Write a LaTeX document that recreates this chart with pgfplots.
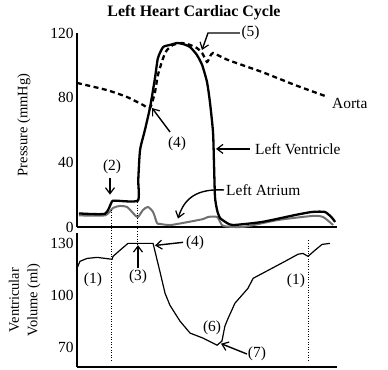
\documentclass[border=0pt]{standalone}
\usepackage{fontspec}
\setmainfont{Liberation Serif}
\usepackage{pgfplots}
\pgfplotsset{compat=1.18}
\usetikzlibrary{arrows.meta}
\newcommand\lbl{\fontsize{15.5}{16}\selectfont}
\definecolor{atrium}{RGB}{112,112,112}
\tikzset{annarrow/.style={line width=1.4bp,-{Straight Barb[length=6bp,width=9bp,line width=1.2bp]}}}
\begin{document}
\begin{tikzpicture}[x=1bp,y=1bp]
\path[use as bounding box] (0,0) rectangle (388,370);
% ---------------- top: pressure ----------------
\begin{axis}[name=top, at={(77bp,143bp)}, anchor=south west, scale only axis,
  width=260bp, height=194bp, xmin=0, xmax=0.8, ymin=0, ymax=120,
  axis x line=bottom, axis y line=left, axis line style={-,line width=1.6bp},
  xtick=\empty, ytick={0,40,80,120}, major tick length=0pt,
  tick label style={font=\lbl}, /pgf/number format/assume math mode=true,
  clip=false]
% Left atrium
\addplot[atrium, line width=2bp, smooth, tension=0.4] coordinates {
(0.006,7.2) (0.086,7.2) (0.111,11.8) (0.132,13.0) (0.154,12.4) (0.178,7.4)
(0.188,6.2) (0.203,10.5) (0.218,12.4) (0.234,9.3) (0.246,2.5) (0.255,1.9)
(0.286,1.2) (0.326,2.5) (0.388,4.9) (0.403,6.2) (0.431,6.2) (0.446,1.2)
(0.465,0.2) (0.517,0.2) (0.618,4.3) (0.723,6.8) (0.757,6.2) (0.788,1.2)};
% Left ventricle
\addplot[black, line width=2.3bp, smooth, tension=0.35] coordinates {
(0.006,8.4) (0.086,8.2) (0.107,15.6) (0.117,16.3) (0.187,16.3) (0.1885,29.1)
(0.194,47.6) (0.209,60.0) (0.225,74.2) (0.240,92.2) (0.249,104.5) (0.265,111.3)
(0.286,112.6) (0.308,113.8) (0.326,113.2) (0.348,111.3) (0.369,106.4)
(0.385,100.2) (0.400,89.7) (0.409,77.3) (0.4185,58.8) (0.4215,39.6)
(0.4246,18.6) (0.431,10.5) (0.440,5.6) (0.4615,2.5) (0.480,1.2) (0.569,3.1)
(0.671,7.4) (0.723,9.3) (0.763,9.3) (0.785,5.6) (0.794,3.1)};
% Aorta
\addplot[black, line width=2.3bp, dash pattern=on 5bp off 3.5bp, smooth, tension=0.35] coordinates {
(0,89.1) (0.092,84.7) (0.154,80.4) (0.203,75.5) (0.2246,73.6) (0.240,83.5)
(0.249,94.0) (0.265,104.5) (0.277,109.5) (0.295,112.6) (0.323,113.8)
(0.348,112.6) (0.369,110.7) (0.385,107.6) (0.400,102.1) (0.409,105.2)
(0.4185,107.6) (0.4646,103.3) (0.569,95.9) (0.671,87.8) (0.772,80.4)};
% annotations
\node[font=\lbl] at (axis cs:0.1077,37.1) {(2)};
\draw[annarrow] (axis cs:0.1015,30.3) -- (axis cs:0.1015,20.0);
\node[font=\lbl] at (axis cs:0.3077,51.5) {(4)};
\draw[annarrow] (axis cs:0.2862,58.8) -- (axis cs:0.2308,73.6);
\node[font=\lbl] at (axis cs:0.534,120.0) {(5)};
\draw[annarrow] (axis cs:0.5015,120) -- (axis cs:0.4031,120) -- (axis cs:0.3846,109.5);
\node[font=\lbl, anchor=west, inner sep=0pt] at (axis cs:0.7846,76.7) {Aorta};
\node[font=\lbl, anchor=west, inner sep=0pt] at (axis cs:0.5477,48.3) {Left Ventricle};
\draw[annarrow] (axis cs:0.5323,48.3) -- (axis cs:0.4277,48.3);
\node[font=\lbl, anchor=west, inner sep=0pt] at (axis cs:0.4585,22.9) {Left Atrium};
\draw[annarrow] (axis cs:0.4523,22.9) .. controls (axis cs:0.37,23.8) and (axis cs:0.33,18) .. (axis cs:0.3108,5.2);
\end{axis}
% ---------------- bottom: volume ----------------
\begin{axis}[name=bot, at={(77bp,3bp)}, anchor=south west, scale only axis,
  width=260bp, height=134bp, xmin=0, xmax=0.8, ymin=58.5, ymax=136,
  axis x line=bottom, axis y line=left, axis line style={-,line width=1.6bp},
  xtick=\empty, ytick={70,100,130}, major tick length=0pt,
  tick label style={font=\lbl}, /pgf/number format/assume math mode=true,
  clip=false]
\addplot[black, line width=1.2bp] coordinates {
(0,115.6) (0.009,119.6) (0.031,121.3) (0.062,121.9) (0.108,120.8) (0.111,122.5)
(0.132,126.0) (0.157,130) (0.234,130) (0.240,125.4) (0.255,113.8) (0.271,101.1)
(0.286,94.2) (0.317,85.0) (0.348,78.1) (0.388,75.2) (0.431,71.1) (0.446,73.5)
(0.455,82.1) (0.465,86.7) (0.486,95.4) (0.526,104.0) (0.542,109.8) (0.600,115.6)
(0.640,119.6) (0.680,123.7) (0.695,124.2) (0.711,122.5) (0.732,126.0)
(0.754,129.4) (0.7785,130)};
% dotted guides
\draw[black, line width=0.6bp, dotted] (axis cs:0.1046,149.5) -- (axis cs:0.1046,62.5);
\draw[black, line width=0.6bp, dotted] (axis cs:0.1846,153.7) -- (axis cs:0.1846,126.5);
\draw[black, line width=0.6bp, dotted] (axis cs:0.7108,131.7) -- (axis cs:0.7108,62.5);
% annotations
\node[font=\lbl] at (axis cs:0.0492,108.7) {(1)};
\node[font=\lbl] at (axis cs:0.6738,108.1) {(1)};
\node[font=\lbl] at (axis cs:0.1877,110.4) {(3)};
\draw[annarrow] (axis cs:0.1877,115.6) -- (axis cs:0.1877,129.0);
\node[font=\lbl] at (axis cs:0.3631,130.3) {(4)};
\draw[annarrow] (axis cs:0.3262,130.6) -- (axis cs:0.2400,128.8);
\node[font=\lbl] at (axis cs:0.4154,81.0) {(6)};
\node[font=\lbl] at (axis cs:0.5538,66.0) {(7)};
\draw[annarrow] (axis cs:0.5231,66.0) -- (axis cs:0.4431,72.0);
\end{axis}
% ---------------- titles ----------------
\node[font=\bfseries\fontsize{16}{16}\selectfont] at (194,357) {Left Heart Cardiac Cycle};
\node[font=\fontsize{14.5}{14.5}\selectfont, rotate=90] at (24,245) {Pressure (mmHg)};
\node[font=\fontsize{14.5}{14.5}\selectfont, rotate=90] at (14,70) {Ventricular};
\node[font=\fontsize{14.5}{14.5}\selectfont, rotate=90] at (34,70) {Volume (ml)};
\end{tikzpicture}
\end{document}
